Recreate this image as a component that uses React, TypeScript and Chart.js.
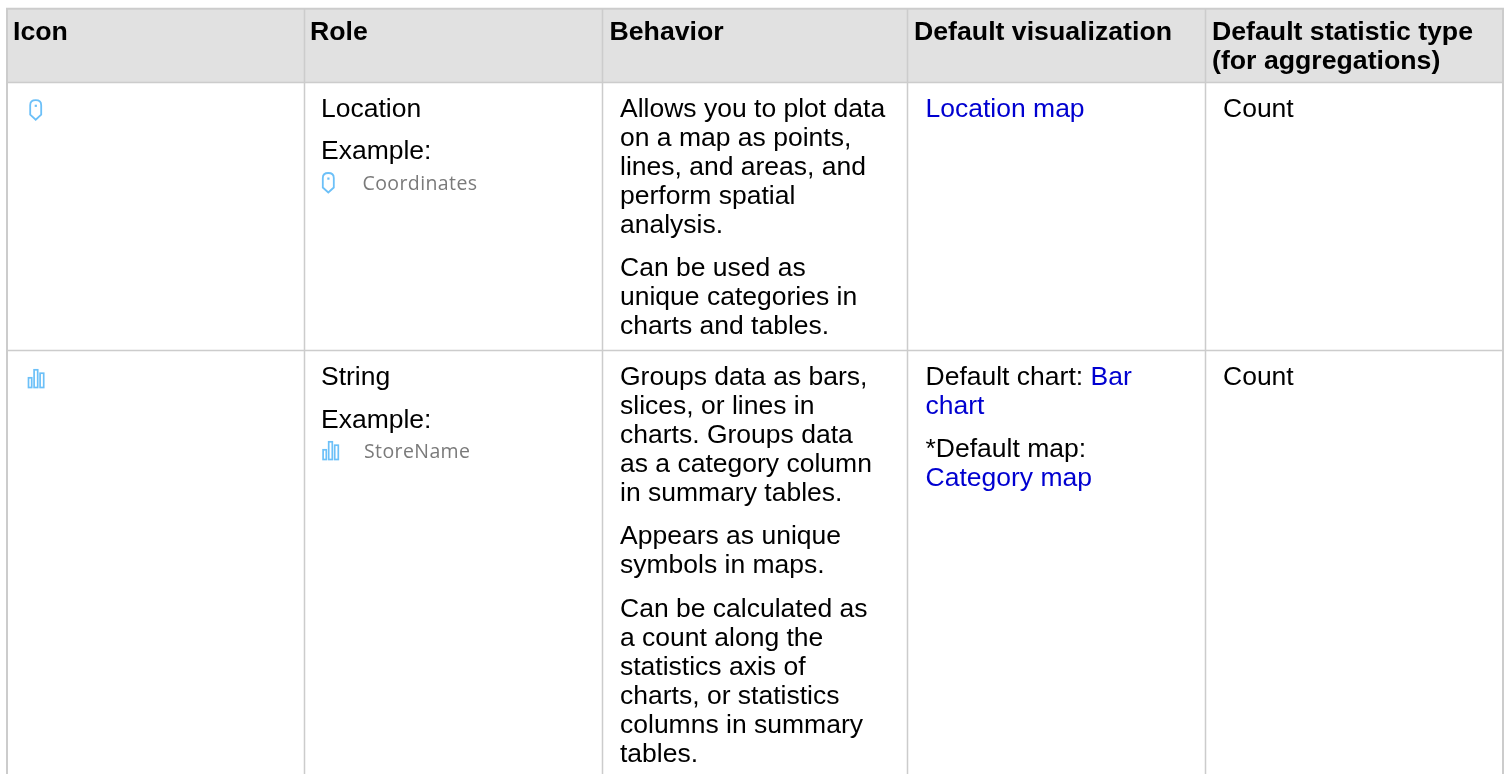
import React, { useEffect, useRef } from "react";
import { Chart, registerables } from "chart.js";

Chart.register(...registerables);

type Run = { t: string; link?: boolean };
type Line = Run[];

const headers: string[][] = [
  ["Icon"],
  ["Role"],
  ["Behavior"],
  ["Default visualization"],
  ["Default statistic type", "(for aggregations)"],
];

const roleRow1 = ["Location", "Example:"];
const exampleRow1 = "Coordinates";
const behaviorRow1 = [
  ["Allows you to plot data", "on a map as points,", "lines, and areas, and", "perform spatial", "analysis."],
  ["Can be used as", "unique categories in", "charts and tables."],
];
const vizRow1: Line[] = [[{ t: "Location map", link: true }]];
const statRow1 = "Count";

const roleRow2 = ["String", "Example:"];
const exampleRow2 = "StoreName";
const behaviorRow2 = [
  ["Groups data as bars,", "slices, or lines in", "charts. Groups data", "as a category column", "in summary tables."],
  ["Appears as unique", "symbols in maps."],
  ["Can be calculated as", "a count along the", "statistics axis of", "charts, or statistics", "columns in summary", "tables."],
];
const vizRow2a: Line[] = [
  [{ t: "Default chart: " }, { t: "Bar", link: true }],
  [{ t: "chart", link: true }],
];
const vizRow2b: Line[] = [[{ t: "*Default map:" }], [{ t: "Category map", link: true }]];
const statRow2 = "Count";

const GRID = "#cccccc";
const HEAD = "#e1e1e1";
const INK = "#000000";
const LINK = "#0000d0";
const ICON = "#6cc0f8";
const FAINT = "#7a7a7a";
const FONT = '"Liberation Sans", Arial, sans-serif';
const SIZE = 26.5;
const BOLD = 26.7;
const LH = 29.05;
const GAP = 14.1;

const tablePlugin = {
  id: "table",
  beforeDraw(chart: any) {
    const c: CanvasRenderingContext2D = chart.ctx;
    const X = (v: number) => chart.scales.x.getPixelForValue(v);
    const Y = (v: number) => chart.scales.y.getPixelForValue(v);
    const colLines = [304.5, 602.5, 907.5, 1205.5];
    const L = 7, R = 1503, T = 9, HB = 82.5, RB = 350.5;
    c.save();
    c.fillStyle = "#ffffff";
    c.fillRect(X(0), Y(0), 1506, 774);
    c.fillStyle = HEAD;
    c.fillRect(X(L), Y(T), R - L, HB - T);
    c.strokeStyle = GRID;
    const seg = (x1: number, y1: number, x2: number, y2: number, w: number) => {
      c.lineWidth = w;
      c.beginPath();
      c.moveTo(X(x1), Y(y1));
      c.lineTo(X(x2), Y(y2));
      c.stroke();
    };
    seg(L - 1, T - 0.3, R + 1, T - 0.3, 2);
    seg(L, T, L, 774, 2);
    seg(R, T, R, 774, 2);
    colLines.forEach((x) => seg(x, T, x, 774, 1.5));
    seg(L, HB, R, HB, 1.5);
    seg(L, RB, R, RB, 1.5);

    c.textBaseline = "alphabetic";
    const head = [13, 310, 609.5, 914, 1212];
    c.fillStyle = INK;
    c.font = `bold ${BOLD}px ${FONT}`;
    headers.forEach((h, i) => h.forEach((t, j) => c.fillText(t, X(head[i]), Y(40 + j * LH))));

    c.font = `${SIZE}px ${FONT}`;
    const plain = (lines: string[], x: number, y: number) => {
      lines.forEach((t, i) => c.fillText(t, X(x), Y(y + i * LH)));
    };
    const rich = (lines: Line[], x: number, y: number) => {
      lines.forEach((ln, i) => {
        let px = x;
        ln.forEach((r) => {
          c.fillStyle = r.link ? LINK : INK;
          c.fillText(r.t, X(px), Y(y + i * LH));
          px += c.measureText(r.t).width;
        });
      });
      c.fillStyle = INK;
    };
    const paras = (ps: string[][], x: number, y: number) => {
      let yy = y;
      ps.forEach((p) => {
        plain(p, x, yy);
        yy += p.length * LH + GAP;
      });
    };

    const y1 = 116.7;
    c.fillText(roleRow1[0], X(321), Y(y1));
    c.fillText(roleRow1[1], X(321), Y(y1 + 42.7));
    paras(behaviorRow1, 620, y1);
    rich(vizRow1, 925.5, y1);
    c.fillText(statRow1, X(1223), Y(y1));

    const y2 = 385;
    c.fillText(roleRow2[0], X(321), Y(y2));
    c.fillText(roleRow2[1], X(321), Y(y2 + 42.7));
    paras(behaviorRow2, 620, y2);
    rich(vizRow2a, 925.5, y2);
    rich(vizRow2b, 925.5, y2 + 2 * LH + GAP);
    c.fillText(statRow2, X(1223), Y(y2));

    c.font = '19.5px "Open Sans", sans-serif';
    c.fillStyle = FAINT;
    (c as any).letterSpacing = "0.4px";
    c.fillText(exampleRow1, X(362.5), Y(190));
    c.fillText(exampleRow2, X(364), Y(458));
    (c as any).letterSpacing = "0px";

    const pin = (x: number, y: number) => {
      c.strokeStyle = ICON;
      c.fillStyle = ICON;
      c.lineWidth = 1.8;
      c.beginPath();
      c.moveTo(X(x), Y(y + 5));
      c.quadraticCurveTo(X(x), Y(y), X(x + 5.5), Y(y));
      c.quadraticCurveTo(X(x + 11), Y(y), X(x + 11), Y(y + 5));
      c.lineTo(X(x + 11), Y(y + 14.5));
      c.lineTo(X(x + 5.5), Y(y + 19.5));
      c.lineTo(X(x), Y(y + 14.5));
      c.closePath();
      c.stroke();
      c.fillRect(X(x + 4.5), Y(y + 4.5), 2.2, 2.2);
    };
    const bars = (x: number, y: number) => {
      c.strokeStyle = ICON;
      c.lineWidth = 1.7;
      c.strokeRect(X(x + 0.8), Y(y + 8.8), 3.2, 9.7);
      c.strokeRect(X(x + 6.4), Y(y + 0.8), 3.6, 17.7);
      c.strokeRect(X(x + 12.4), Y(y + 4.2), 3.6, 14.3);
    };
    pin(30.2, 100.2);
    pin(322.8, 173);
    bars(27.7, 369);
    bars(322.3, 441);
    c.restore();
  },
};

export default function App() {
  const ref = useRef<HTMLCanvasElement>(null);
  useEffect(() => {
    document.body.style.margin = "0";
    const chart = new Chart(ref.current!, {
      type: "scatter",
      data: { datasets: [{ data: [] }] },
      options: {
        animation: false,
        responsive: false,
        layout: { padding: 0 },
        plugins: { legend: { display: false }, tooltip: { enabled: false } },
        scales: {
          x: { type: "linear", min: 0, max: 1506, display: false },
          y: { type: "linear", min: 0, max: 774, reverse: true, display: false },
        },
      },
      plugins: [tablePlugin],
    } as any);
    return () => chart.destroy();
  }, []);
  return <canvas ref={ref} width={1506} height={774} style={{ display: "block", width: 1506, height: 774 }} />;
}
